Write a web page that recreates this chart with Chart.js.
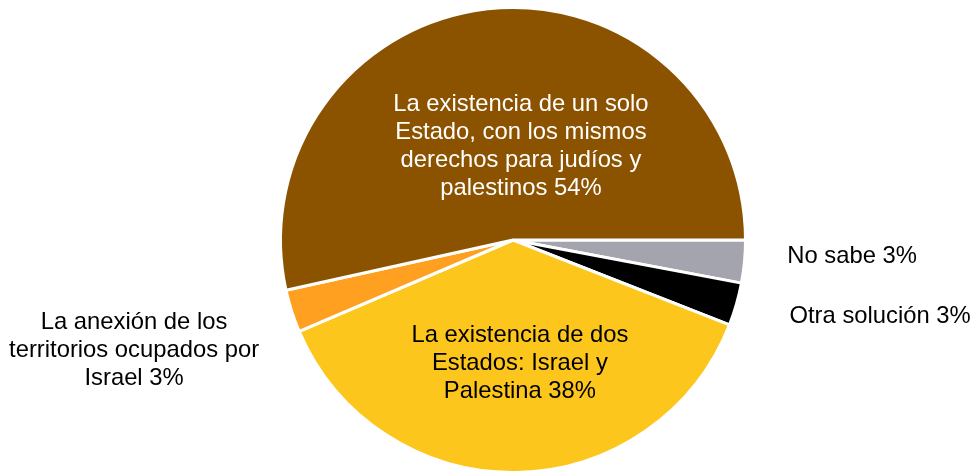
<!DOCTYPE html>
<html>
<head>
<meta charset="utf-8">
<script src="https://cdn.jsdelivr.net/npm/chart.js@4/dist/chart.umd.min.js"></script>
<style>
  html, body { margin: 0; padding: 0; background: #fff; }
  #wrap { width: 975px; height: 474px; }
</style>
</head>
<body>
<div id="wrap"><canvas id="grafico"></canvas></div>
<script>
// datos (orden horario empezando a las 3 en punto)
const categorias = [
  'No sabe',
  'Otra solución',
  'La existencia de dos Estados: Israel y Palestina',
  'La anexión de los territorios ocupados por Israel',
  'La existencia de un solo Estado, con los mismos derechos para judíos y palestinos'
];
const porcentajes = [3, 3, 38, 3, 54];
const etiquetas = [
  ['No sabe 3%'],
  ['Otra solución 3%'],
  ['La existencia de dos', 'Estados: Israel y', 'Palestina 38%'],
  ['La anexión de los', 'territorios ocupados por', 'Israel 3%'],
  ['La existencia de un solo', 'Estado, con los mismos', 'derechos para judíos y', 'palestinos 54%']
];
const colores = ['#A3A4AD', '#000000', '#FDC61C', '#FFA020', '#8B5200'];

// como se coloca cada etiqueta respecto a su porcion
const ajusteEtiquetas = [
  { dentro: false, r: 50, dx: -7, dy: -10, color: '#000' },
  { dentro: false, r: 50, dx: 5, dy: -2, color: '#000' },
  { dentro: true, r: 0.53, dx: 5, dy: 0, color: '#000' },
  { dentro: false, r: 50, dx: 15, dy: 24, color: '#000' },
  { dentro: true, r: 0.4, dx: 18, dy: -1, color: '#fff' }
];

const pluginEtiquetas = {
  id: 'etiquetas',
  afterDatasetsDraw(chart) {
    const ctx = chart.ctx;
    const meta = chart.getDatasetMeta(0);
    const altoLinea = 28;
    ctx.save();
    ctx.font = '23.8px "Liberation Sans", Arial, sans-serif';
    ctx.textBaseline = 'middle';
    meta.data.forEach((arc, i) => {
      const { x, y, startAngle, endAngle, outerRadius } = arc.getProps(['x', 'y', 'startAngle', 'endAngle', 'outerRadius'], true);
      const medio = (startAngle + endAngle) / 2;
      const aj = ajusteEtiquetas[i];
      const dist = aj.dentro ? outerRadius * aj.r : outerRadius + aj.r;
      let ax = x + Math.cos(medio) * dist + aj.dx;
      let ay = y + Math.sin(medio) * dist + aj.dy;
      const lineas = etiquetas[i];
      const anchoMax = Math.max(...lineas.map(l => ctx.measureText(l).width));
      let cx;
      if (aj.dentro) {
        cx = ax;
      } else if (Math.cos(medio) >= 0) {
        cx = ax + anchoMax / 2;
      } else {
        cx = ax - anchoMax / 2;
      }
      ctx.fillStyle = aj.color;
      ctx.textAlign = 'center';
      const y0 = ay - (lineas.length - 1) * altoLinea / 2;
      lineas.forEach((l, k) => {
        if (!aj.dentro && lineas.length === 1) {
          ctx.textAlign = Math.cos(medio) >= 0 ? 'left' : 'right';
          ctx.fillText(l, ax, y0 + k * altoLinea);
        } else {
          ctx.fillText(l, cx, y0 + k * altoLinea);
        }
      });
    });
    ctx.restore();
  }
};

new Chart(document.getElementById('grafico').getContext('2d'), {
  type: 'pie',
  data: {
    labels: categorias,
    datasets: [{
      data: porcentajes,
      backgroundColor: colores,
      borderColor: '#ffffff',
      borderWidth: 3
    }]
  },
  options: {
    responsive: true,
    maintainAspectRatio: false,
    animation: false,
    rotation: 90,
    layout: { padding: { left: 279, right: 228, top: 6, bottom: 0 } },
    plugins: {
      legend: { display: false },
      tooltip: { enabled: false }
    }
  },
  plugins: [pluginEtiquetas]
});
</script>
</body>
</html>
